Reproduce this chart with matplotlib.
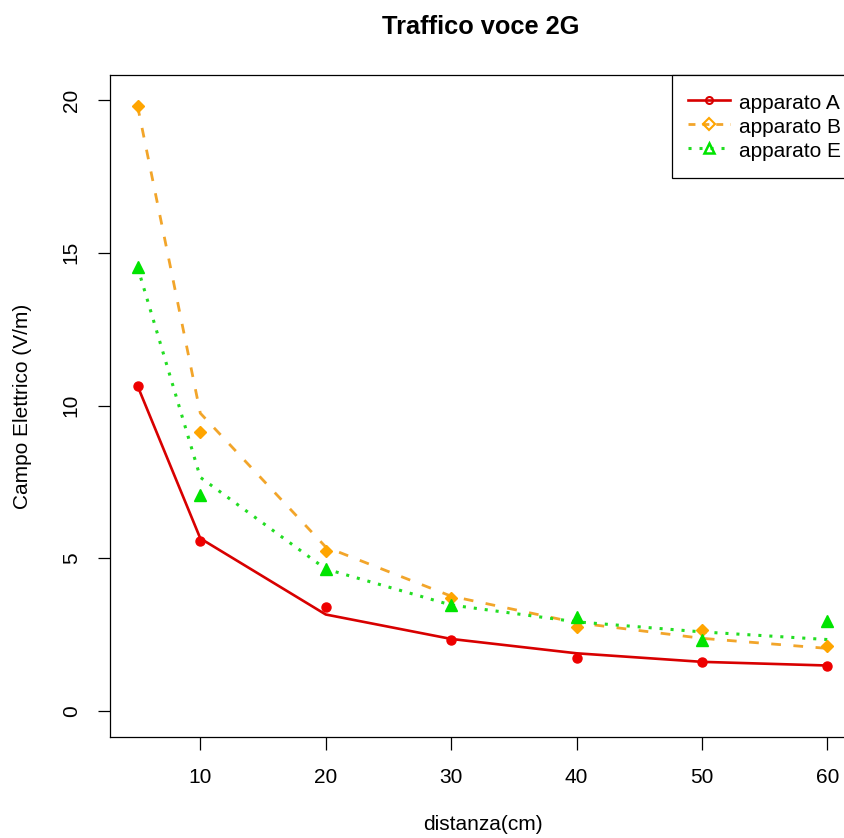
import matplotlib
matplotlib.use("Agg")
import matplotlib.pyplot as plt

plt.rcParams['font.family'] = ['Liberation Sans', 'DejaVu Sans']

# distanza (cm)
dist = [5, 10, 20, 30, 40, 50, 60]

# measured points
pts_A = [10.64, 5.56, 3.40, 2.32, 1.72, 1.61, 1.49]
pts_B = [19.80, 9.12, 5.24, 3.69, 2.74, 2.65, 2.14]
pts_E = [14.53, 7.07, 4.64, 3.47, 3.07, 2.32, 2.95]

# fitted curves (as drawn)
fit_A = [10.64, 5.65, 3.16, 2.36, 1.89, 1.61, 1.49]
fit_B = [19.80, 9.75, 5.37, 3.76, 2.89, 2.38, 2.05]
fit_E = [14.53, 7.65, 4.65, 3.47, 2.92, 2.59, 2.34]

labels = ["apparato A", "apparato B", "apparato E"]

W, H = 845, 838
fig = plt.figure(figsize=(W / 100, H / 100), dpi=100)
ax = fig.add_axes([110 / W, (H - 737) / H, (855 - 110) / W, (737 - 75) / H])

red_l, red_p = '#d80000', '#ee0000'
ora_l, ora_p = '#f2a52a', '#ffa500'
grn_l, grn_p = '#22dd22', '#00e400'

ax.plot(dist, fit_A, color=red_l, lw=1.9, solid_capstyle='butt')
ax.plot(dist, fit_B, color=ora_l, lw=2.0, linestyle=(0, (3.5, 4.5)))
ax.plot(dist, fit_E, color=grn_l, lw=2.2, linestyle=(0, (1, 2.6)))

ax.plot(dist, pts_A, 'o', color=red_p, ms=6.5, ls='none')
ax.plot(dist, pts_B, 'D', color=ora_p, ms=6.5, ls='none')
ax.plot(dist, pts_E, '^', color=grn_p, ms=8.5, ls='none')

# legend handles
hA, = ax.plot([], [], color=red_l, lw=1.9, marker='o', ms=5, mfc='none', mec=red_l, mew=1.5)
hB, = ax.plot([], [], color=ora_l, lw=2.0, linestyle=(0, (2.5, 2.5)), marker='D', ms=6, mfc='none', mec=ora_p, mew=1.5)
hE, = ax.plot([], [], color=grn_l, lw=2.2, linestyle=(0, (1, 2.6)), marker='^', ms=7, mfc='none', mec=grn_p, mew=1.8)
leg = ax.legend([hA, hB, hE], labels, loc='upper right', bbox_to_anchor=(1.004, 1),
                borderaxespad=0, fancybox=False, edgecolor='black', fontsize=15,
                handlelength=2.0, handleheight=1.15, handletextpad=0.45,
                labelspacing=0.12, borderpad=0.8, framealpha=1)
leg.get_frame().set_linewidth(0.9)

ax.set_xlim(2.8, 62.2)
ax.set_ylim(-0.85, 20.82)
ax.set_xticks([10, 20, 30, 40, 50, 60])
ax.set_yticks([0, 5, 10, 15, 20])
ax.tick_params(direction='out', length=9, width=0.9, labelsize=15)
ax.tick_params(axis='x', pad=13)
ax.tick_params(axis='y', pad=12)
for lbl in ax.get_yticklabels():
    lbl.set_rotation(90)
    lbl.set_va('center')
for s in ax.spines.values():
    s.set_linewidth(0.9)

fig.text(483 / W, 1 - 824 / H, "distanza(cm)", ha='center', va='center', fontsize=15)
fig.text(23 / W, 1 - 406 / H, "Campo Elettrico (V/m)", ha='center', va='center',
         fontsize=15, rotation=90)
fig.text(481 / W, 1 - 27 / H, "Traffico voce 2G", ha='center', va='center',
         fontsize=18.3, fontweight='bold')

fig.savefig("out.png", dpi=100)
